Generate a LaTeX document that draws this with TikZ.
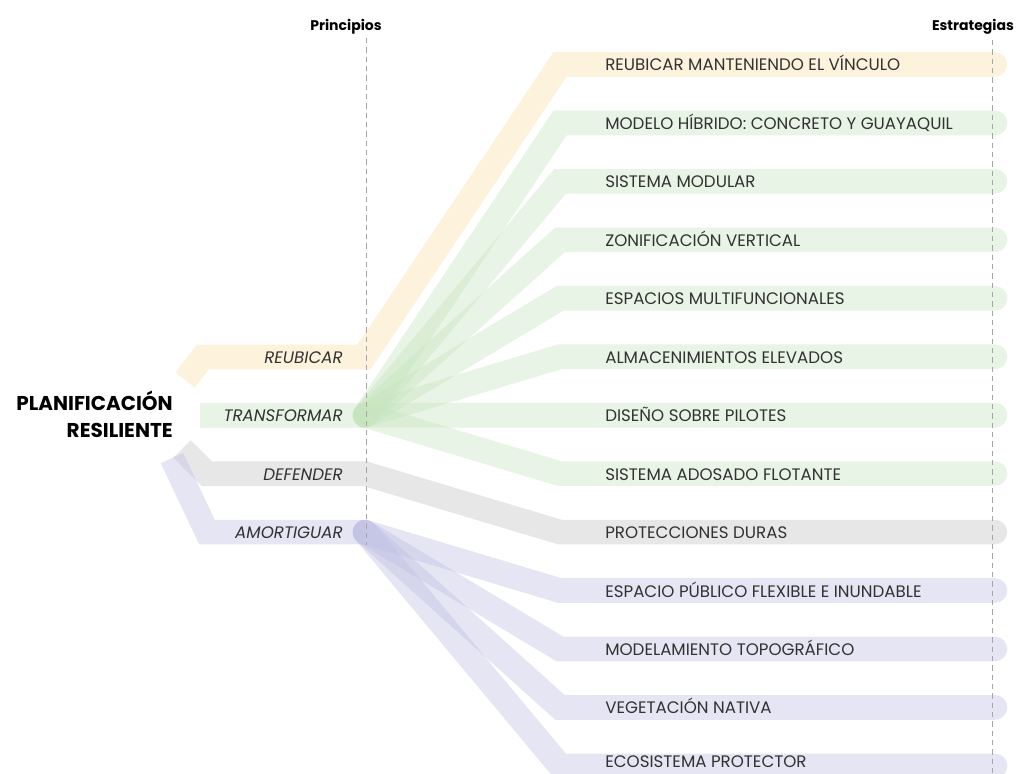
\documentclass[tikz,border=0pt]{standalone}
\usepackage{fontspec}
\setmainfont{Poppins}
\usetikzlibrary{calc}
\definecolor{cor}{RGB}{250,224,168}
\definecolor{cgr}{RGB}{198,228,190}
\definecolor{cgy}{RGB}{196,196,196}
\definecolor{cpu}{RGB}{190,190,226}
\definecolor{txt}{RGB}{50,50,50}
\definecolor{dash}{RGB}{165,165,165}
\begin{document}
\begin{tikzpicture}[x=0.75pt,y=-0.75pt,
  band/.style={line width=18.5pt, line join=miter, draw opacity=0.4},
  trunk/.style={band, line cap=butt},
  fan/.style={band, line cap=round},
  capfill/.style={fill opacity=0.4},
  lbl/.style={text=txt, inner sep=0pt, text height=0.7em, text depth=0pt, yshift=-1.3pt},
  strat/.style={lbl, anchor=west, font=\fontsize{12.5}{14}\selectfont},
  princ/.style={lbl, anchor=east, font=\fontsize{12.5}{14}\selectfont\itshape},
  head/.style={text=black, inner sep=0pt, text height=0.7em, text depth=0pt, font=\fontsize{10.5}{12}\selectfont\bfseries},
  guide/.style={draw=dash, line width=0.7pt, dash pattern=on 4pt off 3pt}]
\useasboundingbox (0,0) rectangle (1018,774);
\clip (0,0) rectangle (1018,774);
% row coordinates
\foreach \i in {0,...,12}{
  \pgfmathsetmacro{\yy}{64.5+58.45*\i}
  \coordinate (c\i) at (560,\yy);
  \coordinate (e\i) at (995,\yy);
}
% hubs and trunk points
\coordinate (os) at (185,380);
\coordinate (oc) at (203,357);
\coordinate (ohub) at (364,357);
\coordinate (ts) at (200,415.2);
\coordinate (thub) at (365,415.2);
\coordinate (gs) at (182,449);
\coordinate (gc) at (207,473.7);
\coordinate (ghub) at (365,473.7);
\coordinate (ps) at (172,458);
\coordinate (pc) at (207,532.1);
\coordinate (phub) at (365,532.1);
% gray: DEFENDER
\draw[trunk, cgy] (gs) -- (gc) -- (ghub) -- (c8) -- (e8);
\fill[cgy, capfill] ($(e8)+(0,12.3)$) arc[start angle=90, end angle=-90, radius=12.3] -- cycle;
% purple: AMORTIGUAR
\draw[trunk, cpu] (ps) -- (pc) -- (phub);
\foreach \i in {9,...,12}{
  \draw[fan, cpu] (phub) -- (c\i) -- (e\i);
}
% green: TRANSFORMAR
\draw[trunk, cgr] (ts) -- (thub);
\foreach \i in {1,...,7}{
  \draw[fan, cgr] (thub) -- (c\i) -- (e\i);
}
% orange: REUBICAR
\draw[trunk, cor] (os) -- (oc) -- (ohub) -- (c0) -- (e0);
\fill[cor, capfill] ($(e0)+(0,12.3)$) arc[start angle=90, end angle=-90, radius=12.3] -- cycle;
% guides
\coordinate (g1a) at (366,38);
\coordinate (g1b) at (366,545);
\coordinate (g2a) at (992,40);
\coordinate (g2b) at (992,774);
\draw[guide] (g1a) -- (g1b);
\draw[guide] (g2a) -- (g2b);
% headers
\node[head] (hp) at (346,26) {Principios};
\node[head] (he) at (973,26) {Estrategias};
% title
\node[anchor=east, align=right, inner sep=0pt, text=black,
      font=\fontsize{15}{20.3}\selectfont\bfseries] (title) at (173,414)
      {PLANIFICACIÓN\\RESILIENTE};
% principles
\node[princ] (p1) at (343,356.8) {REUBICAR};
\node[princ] (p2) at (343,415.2) {TRANSFORMAR};
\node[princ] (p3) at (343,473.7) {DEFENDER};
\node[princ] (p4) at (343,532.1) {AMORTIGUAR};
% strategies
\node[strat] (s0) at (605,64.5) {REUBICAR MANTENIENDO EL VÍNCULO};
\node[strat] (s1) at (605,123) {MODELO HÍBRIDO: CONCRETO Y GUAYAQUIL};
\node[strat] (s2) at (605,181.4) {SISTEMA MODULAR};
\node[strat] (s3) at (605,239.9) {ZONIFICACIÓN VERTICAL};
\node[strat] (s4) at (605,298.3) {ESPACIOS MULTIFUNCIONALES};
\node[strat] (s5) at (605,356.8) {ALMACENIMIENTOS ELEVADOS};
\node[strat] (s6) at (605,415.2) {DISEÑO SOBRE PILOTES};
\node[strat] (s7) at (605,473.7) {SISTEMA ADOSADO FLOTANTE};
\node[strat] (s8) at (605,532.1) {PROTECCIONES DURAS};
\node[strat] (s9) at (605,590.6) {ESPACIO PÚBLICO FLEXIBLE E INUNDABLE};
\node[strat] (s10) at (605,649) {MODELAMIENTO TOPOGRÁFICO};
\node[strat] (s11) at (605,707.5) {VEGETACIÓN NATIVA};
\node[strat] (s12) at (605,761) {ECOSISTEMA PROTECTOR};
\end{tikzpicture}
\end{document}
